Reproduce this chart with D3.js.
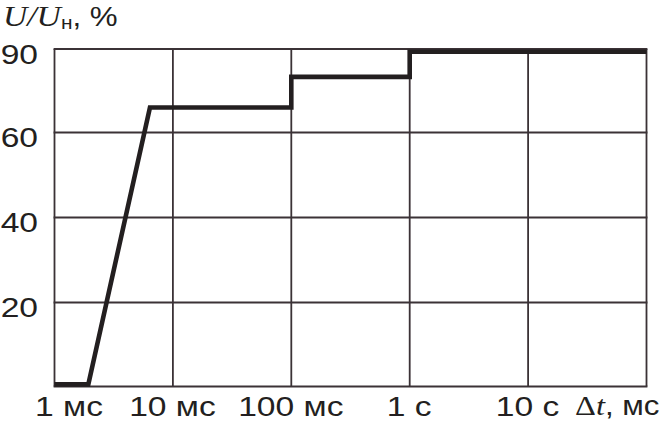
<!DOCTYPE html>
<html><head><meta charset="utf-8">
<script src="https://cdn.jsdelivr.net/npm/d3@7"></script>
<style>
html,body{margin:0;padding:0;background:#fff;}
svg{display:block;}
</style></head>
<body>
<svg id="c" width="665" height="433"></svg>
<script>
// Data
const timeTicksMs = [1, 10, 100, 1000, 10000, 100000];
const timeTickLabels = ["1 мс", "10 мс", "100 мс", "1 с", "10 с", ""];
const levelTicks = [0, 20, 40, 60, 90];
const levelTickLabels = ["", "20", "40", "60", "90"];
const curveTimeMs = [1, 1.93, 6.4, 100, 100, 1000, 1000, 100000];
const curveLevelPct = [0.5, 0.5, 69, 69, 80, 80, 89, 89];

const ink = "#231f20";
const gridCol = "#3b3236";
const SX = 1.2;
const SXT = 1.16;
const sans = "'Liberation Sans', Arial, sans-serif";
const serif = "'Liberation Serif', 'Times New Roman', serif";

const svg = d3.select("#c");
const x = d3.scaleLog().domain([1, 100000]).range([54.5, 646.5]);
const y = d3.scaleLinear().domain(levelTicks).range([386.5, 302.5, 217.5, 132.5, 49]);

// grid
const g = svg.append("g");
g.selectAll("line.v").data(timeTicksMs).enter().append("line")
  .attr("x1", d => x(d)).attr("x2", d => x(d))
  .attr("y1", y(90)).attr("y2", y(0))
  .attr("stroke", gridCol).attr("stroke-width", 1.8);
g.selectAll("line.h").data(levelTicks).enter().append("line")
  .attr("y1", d => y(d)).attr("y2", d => y(d))
  .attr("x1", x(1) - 0.9).attr("x2", x(100000) + 0.9)
  .attr("stroke", gridCol).attr("stroke-width", 1.8);

// axes (labels only)
const xAxis = d3.axisBottom(x).tickValues(timeTicksMs)
  .tickFormat((d, i) => timeTickLabels[i]).tickSize(0);
const ax = svg.append("g").attr("transform", `translate(0,${y(0)})`).call(xAxis);
ax.select(".domain").remove();
ax.selectAll("text")
  .attr("x", null).attr("y", null).attr("dy", null)
  .attr("fill", ink).style("font-family", sans).style("font-size", "28px")
  .attr("text-anchor", "middle")
  .attr("transform", (d, i) => `translate(${i === 0 ? 14 : -1},29) scale(${SX},1)`);

const yAxis = d3.axisLeft(y).tickValues(levelTicks)
  .tickFormat((d, i) => levelTickLabels[i]).tickSize(0);
const ay = svg.append("g").attr("transform", `translate(38,0)`).call(yAxis);
ay.select(".domain").remove();
ay.selectAll("text")
  .attr("x", null).attr("y", null).attr("dy", null)
  .attr("fill", ink).style("font-family", sans).style("font-size", "28px")
  .attr("text-anchor", "end")
  .attr("transform", `translate(0,14) scale(${SX},1)`);

// curve
const pts = curveTimeMs.map((t, i) => [t, curveLevelPct[i]]);
svg.append("path")
  .attr("d", d3.line().x(d => x(d[0])).y(d => y(d[1]))(pts))
  .attr("fill", "none").attr("stroke", ink).attr("stroke-width", 4.6)
  .attr("stroke-linejoin", "miter").attr("stroke-linecap", "butt");

// y title
const yt = svg.append("text").attr("transform", `translate(3,26) scale(${SXT},1)`)
  .attr("fill", ink).style("font-size", "27px");
yt.append("tspan").style("font-family", serif).style("font-style", "italic").style("font-size", "29px").text("U/U");
yt.append("tspan").style("font-family", sans).style("font-size", "18px").attr("dy", 3).text("н");
yt.append("tspan").style("font-family", sans).attr("dy", -3).text(", %");

// x title
const xt = svg.append("text").attr("transform", `translate(575,415) scale(${SXT},1)`)
  .attr("fill", ink).style("font-size", "27px");
xt.append("tspan").style("font-family", serif).style("font-size", "28px").text("Δ");
xt.append("tspan").style("font-family", serif).style("font-style", "italic").style("font-size", "28px").text("t");
xt.append("tspan").style("font-family", sans).text(", мс");
</script>
</body></html>
